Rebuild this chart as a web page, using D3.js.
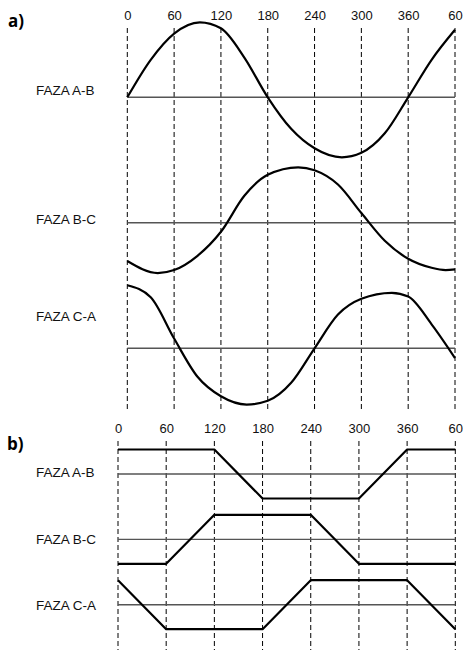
<!DOCTYPE html>
<html>
<head>
<meta charset="utf-8">
<script src="https://cdn.jsdelivr.net/npm/d3@7"></script>
<style>
html,body{margin:0;padding:0;background:#fff;}
svg{display:block;}
</style>
</head>
<body>
<script>
// ---- data ----
const tickValues = [0, 60, 120, 180, 240, 300, 360, 420];
const tickLabels = ["0", "60", "120", "180", "240", "300", "360", "60"];
const phases = ["FAZA A-B", "FAZA B-C", "FAZA C-A"];

// part a) distorted sine waves: [angle, value]
const sineAB = [[0,0],[30,0.50],[60,0.85],[93,1.0],[120,0.92],[150,0.53],[180,0],[210,-0.42],[240,-0.68],[275,-0.80],[300,-0.74],[330,-0.48],[360,0],[390,0.50],[420,0.90]];
const sineBC = [[0,-0.51],[39,-0.67],[60,-0.63],[90,-0.44],[120,-0.12],[150,0.36],[180,0.64],[219,0.74],[240,0.70],[270,0.51],[300,0.13],[330,-0.24],[360,-0.48],[390,-0.60],[408,-0.63],[420,-0.62]];
const sineCA = [[0,0.84],[30,0.68],[60,0.13],[90,-0.38],[120,-0.64],[153,-0.75],[180,-0.70],[210,-0.46],[240,0],[270,0.45],[300,0.66],[339,0.74],[360,0.69],[390,0.32],[420,-0.13]];

// part b) trapezoid waves: [angle, value]
const trapAB = [[0,1],[120,1],[180,-1],[300,-1],[360,1],[420,1]];
const trapBC = [[0,-1],[60,-1],[120,1],[240,1],[300,-1],[420,-1]];
const trapCA = [[0,1],[60,-1],[180,-1],[240,1],[360,1],[420,-1]];

const W = 463, H = 650;
const svg = d3.select("body").append("svg").attr("width", W).attr("height", H);

const labelFont = "'Liberation Sans', Arial, sans-serif";

function panel(opts) {
  const x = d3.scaleLinear().domain([0, 420]).range(opts.xRange);
  const rowY = d3.scalePoint().domain(phases).range(opts.rowRange);
  const g = svg.append("g");

  g.append("text").attr("x", opts.titlePos[0]).attr("y", opts.titlePos[1])
    .attr("font-family", "'Open Sans', 'Noto Sans', sans-serif")
    .attr("font-weight", 700).attr("font-size", 17).attr("fill", "#000")
    .text(opts.title);

  const axis = d3.axisTop(x).tickValues(tickValues)
    .tickFormat((d, i) => tickLabels[i]).tickSize(0).tickPadding(0);
  const ax = g.append("g").attr("transform", `translate(0,${opts.tickY})`).call(axis);
  ax.select(".domain").remove();
  ax.selectAll("text").attr("font-family", labelFont).attr("font-size", 13)
    .attr("fill", "#111").attr("dy", 0);

  g.selectAll("line.v").data(tickValues).join("line").attr("class", "v")
    .attr("x1", d => x(d)).attr("x2", d => x(d))
    .attr("y1", opts.dashY[0]).attr("y2", opts.dashY[1])
    .attr("stroke", "#000").attr("stroke-width", 1)
    .attr("stroke-dasharray", "5,3");

  phases.forEach((p, i) => {
    const base = rowY(p);
    g.append("line").attr("x1", x(0)).attr("x2", x(420))
      .attr("y1", base).attr("y2", base)
      .attr("stroke", "#555").attr("stroke-width", 1.4);
    g.append("text").attr("x", 36).attr("y", base + opts.labelDy[i])
      .attr("font-family", labelFont).attr("font-size", 13.5)
      .attr("fill", "#111").text(p);
    const y = d3.scaleLinear().domain([-1, 1]).range([base + opts.amp, base - opts.amp]);
    const line = d3.line().x(d => x(d[0])).y(d => y(d[1])).curve(opts.curve);
    g.append("path").datum(opts.series[i]).attr("d", line)
      .attr("fill", "none").attr("stroke", "#000").attr("stroke-width", 2.2)
      .attr("stroke-linejoin", "round");
  });
}

panel({
  title: "a)", titlePos: [8, 26.5],
  xRange: [127.3, 455], rowRange: [97.3, 348.3], tickY: 19.5,
  dashY: [28, 410], amp: 75, labelDy: [-2.5, 1, -27],
  series: [sineAB, sineBC, sineCA], curve: d3.curveMonotoneX
});

panel({
  title: "b)", titlePos: [7, 450],
  xRange: [118, 455.3], rowRange: [474, 604.7], tickY: 432.5,
  dashY: [441, 650], amp: 24.5, labelDy: [2.7, 5, 5.3],
  series: [trapAB, trapBC, trapCA], curve: d3.curveLinear
});
</script>
</body>
</html>
